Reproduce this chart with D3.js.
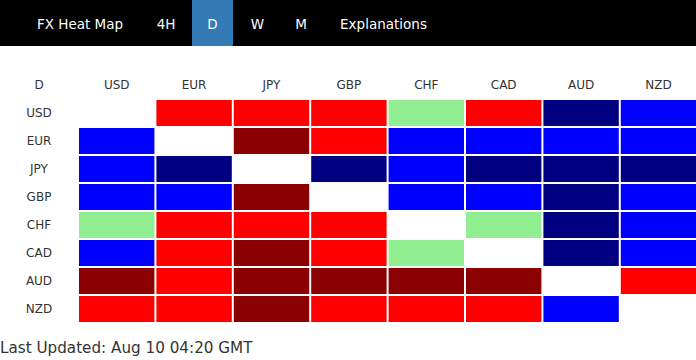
<!DOCTYPE html>
<html>
<head>
<meta charset="utf-8">
<script src="https://cdn.jsdelivr.net/npm/d3@7"></script>
<style>
  html, body { margin: 0; padding: 0; background: #fff; }
  svg { display: block; }
</style>
</head>
<body>
<script>
// ---- data ----
const currencies = ["USD", "EUR", "JPY", "GBP", "CHF", "CAD", "AUD", "NZD"];
const timeframe = "D";
const menuItems = ["FX Heat Map", "4H", "D", "W", "M", "Explanations"];
const activeMenu = "D";
// strength level: 2 strong up, 1 up, 0 neutral, -1 down, -2 strong down, null = same currency
const rowUSD = [null, 1, 1, 1, 0, 1, -2, -1];
const rowEUR = [-1, null, 2, 1, -1, -1, -1, -1];
const rowJPY = [-1, -2, null, -2, -1, -2, -2, -2];
const rowGBP = [-1, -1, 2, null, -1, -1, -2, -1];
const rowCHF = [0, 1, 1, 1, null, 0, -2, -1];
const rowCAD = [-1, 1, 2, 1, 0, null, -2, -1];
const rowAUD = [2, 1, 2, 2, 2, 2, null, 1];
const rowNZD = [1, 1, 2, 1, 1, 1, -1, null];
const matrix = [rowUSD, rowEUR, rowJPY, rowGBP, rowCHF, rowCAD, rowAUD, rowNZD];
const levels = [2, 1, 0, -1, -2];
const levelColors = ["#8B0000", "#FF0000", "#90EE90", "#0000FF", "#000080"];
const lastUpdated = "Last Updated: Aug 10 04:20 GMT";

// ---- drawing ----
const W = 696, H = 360;
const svg = d3.select("body").append("svg").attr("width", W).attr("height", H);
const font = "'DejaVu Sans', Verdana, sans-serif";

// top menu bar
svg.append("rect").attr("x", 0).attr("y", 0).attr("width", W).attr("height", 46).attr("fill", "#000");
const menuCenters = [80, 166, 212.5, 257.5, 301, 383.5];
const menuBox = { x0: 192, x1: 233 };
menuItems.forEach((m, i) => {
  if (m === activeMenu) {
    svg.append("rect").attr("x", menuBox.x0).attr("y", 0)
      .attr("width", menuBox.x1 - menuBox.x0).attr("height", 46).attr("fill", "#337AB7");
  }
  svg.append("text").attr("x", menuCenters[i]).attr("y", 29)
    .attr("text-anchor", "middle").attr("font-family", font).attr("font-size", 13.5)
    .attr("fill", "#fff").text(m);
});

const x = d3.scaleBand().domain(currencies).range([77, 696.2]);
const y = d3.scaleBand().domain(currencies).range([98, 98 + 28 * 8]);
const color = d3.scaleOrdinal().domain(levels).range(levelColors);

// column headers
svg.append("text").attr("x", 39).attr("y", 85).attr("dy", "0.35em")
  .attr("text-anchor", "middle").attr("font-family", font).attr("font-size", 12)
  .attr("fill", "#333").text(timeframe);
svg.selectAll("text.col").data(currencies).enter().append("text").attr("class", "col")
  .attr("x", d => x(d) + 1 + x.bandwidth() / 2).attr("y", 85).attr("dy", "0.35em")
  .attr("text-anchor", "middle").attr("font-family", font).attr("font-size", 12)
  .attr("fill", "#333").text(d => d);

// row labels
svg.selectAll("text.row").data(currencies).enter().append("text").attr("class", "row")
  .attr("x", 39).attr("y", d => y(d) + 1 + y.bandwidth() / 2).attr("dy", "0.35em")
  .attr("text-anchor", "middle").attr("font-family", font).attr("font-size", 12)
  .attr("fill", "#333").text(d => d);

// cells
const cells = [];
matrix.forEach((row, r) => row.forEach((v, c) => cells.push({ r: currencies[r], c: currencies[c], v })));
svg.selectAll("rect.cell").data(cells.filter(d => d.v !== null)).enter().append("rect")
  .attr("class", "cell")
  .attr("x", d => x(d.c) + 2).attr("y", d => y(d.r) + 2)
  .attr("width", x.bandwidth() - 2).attr("height", y.bandwidth() - 2)
  .attr("fill", d => color(d.v));

// footer
svg.append("text").attr("x", 0).attr("y", 353).attr("font-family", font).attr("font-size", 15.2)
  .attr("fill", "#333").text(lastUpdated);
</script>
</body>
</html>
